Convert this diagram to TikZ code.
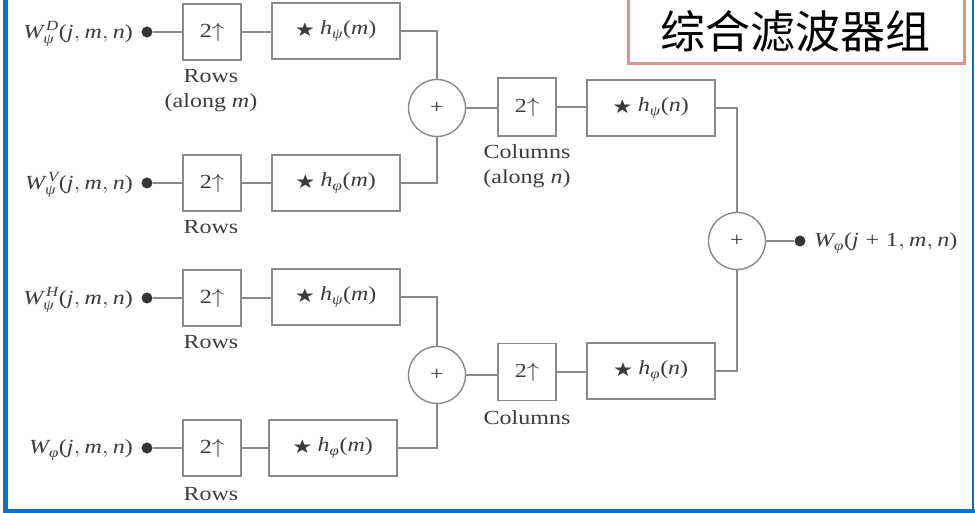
\documentclass[tikz,border=0pt]{standalone}
\usepackage{amsmath}
\usepackage{amssymb}
\usepackage{graphicx}
\usepackage{fontspec}
\setmainfont{Liberation Serif}
\newfontfamily\cjk{Noto Sans CJK SC}
\usetikzlibrary{calc}
\newcommand\vi[1]{\text{\itshape #1}}
\newcommand\vr[1]{\text{\upshape #1}}
\newcommand\hs[1]{\scalebox{1.2}[1]{#1}}
\newcommand\stsym{\raisebox{0.5pt}{\scalebox{0.82}{$\bigstar$}}}
\definecolor{lg}{HTML}{8A8A8A}
\definecolor{tg}{HTML}{3C3C3C}
\definecolor{frameblue}{HTML}{0A72C4}
\definecolor{pinkb}{HTML}{D99593}
\tikzset{
  lbl/.style={font=\fontsize{20}{23}\selectfont, text=tg, inner sep=0pt},
  upbox/.style={draw=lg, line width=1.4pt, minimum width=58pt, minimum height=56pt, inner sep=0pt, font=\fontsize{20}{23}\selectfont, text=tg},
  hbox/.style={draw=lg, line width=1.4pt, minimum width=128pt, minimum height=56pt, inner sep=0pt, font=\fontsize{20}{23}\selectfont, text=tg},
  sumc/.style={circle, draw=lg, line width=1.4pt, minimum size=57pt, inner sep=0pt, font=\fontsize{20}{23}\selectfont, text=tg},
  dotn/.style={circle, fill=tg!90!black, minimum size=11pt, inner sep=0pt},
  wire/.style={draw=lg, line width=1.4pt}
}
\begin{document}
\begin{tikzpicture}[x=1pt,y=-1pt]
\useasboundingbox (0,0) rectangle (975,513);
\fill[white] (0,0) rectangle (975,513);
% frame
\draw[frameblue, line width=5pt] (5.5,0) -- (5.5,510.5);
\draw[frameblue, line width=3.5pt] (3,510.8) -- (975,510.8);
\draw[frameblue, line width=2pt] (973,0) -- (973,512);
% title
\draw[pinkb, line width=3pt] (628,-5) rectangle (964,64);
\node[font=\cjk\fontsize{45}{50}\selectfont, text=black, inner sep=0pt] (title) at (795,31) {综合滤波器组};

% inputs
\node[dotn] (d1) at (147,32) {};
\node[dotn] (d2) at (147,183) {};
\node[dotn] (d3) at (147,298) {};
\node[dotn] (d4) at (147,448) {};
\node[lbl, anchor=east] (l1) at (133,34) {\hs{$\vi{W}^{\,\vi{D}}_{\vi{ψ}}\vr{(}\vi{j}, \vi{m}, \vi{n}\vr{)}$}};
\node[lbl, anchor=east] (l2) at (133,185) {\hs{$\vi{W}^{\,\vi{V}}_{\vi{ψ}}\vr{(}\vi{j}, \vi{m}, \vi{n}\vr{)}$}};
\node[lbl, anchor=east] (l3) at (133,300) {\hs{$\vi{W}^{\,\vi{H}}_{\vi{ψ}}\vr{(}\vi{j}, \vi{m}, \vi{n}\vr{)}$}};
\node[lbl, anchor=east] (l4) at (133,450) {\hs{$\vi{W}_{\vi{φ}}\vr{(}\vi{j}, \vi{m}, \vi{n}\vr{)}$}};

% row upsamplers
\node[upbox] (u1) at (212,32) {\hs{2$\uparrow$}};
\node[upbox] (u2) at (212,183) {\hs{2$\uparrow$}};
\node[upbox] (u3) at (212,298) {\hs{2$\uparrow$}};
\node[upbox] (u4) at (212,448) {\hs{2$\uparrow$}};
\node[lbl, align=center] (r1) at (211,91) {\hs{Rows}\\[2pt]\hs{(along \textit{m})}};
\node[lbl] (r2) at (211,227) {\hs{Rows}};
\node[lbl] (r3) at (211,342) {\hs{Rows}};
\node[lbl] (r4) at (211,494) {\hs{Rows}};

% row filters
\node[hbox] (h1) at (336,31) {\hs{\stsym\ $\vi{h}_{\vi{ψ}}\vr{(}\vi{m}\vr{)}$}};
\node[hbox] (h2) at (336,183) {\hs{\stsym\ $\vi{h}_{\vi{φ}}\vr{(}\vi{m}\vr{)}$}};
\node[hbox] (h3) at (336,297) {\hs{\stsym\ $\vi{h}_{\vi{ψ}}\vr{(}\vi{m}\vr{)}$}};
\node[hbox] (h4) at (333,448) {\hs{\stsym\ $\vi{h}_{\vi{φ}}\vr{(}\vi{m}\vr{)}$}};

% sums
\node[sumc] (s1) at (437,108) {\hs{+}};
\node[sumc] (s2) at (437,375) {\hs{+}};
\node[sumc] (s3) at (737,241) {\hs{+}};

% columns
\node[upbox, minimum height=58pt] (c1) at (527,107) {\hs{2$\uparrow$}};
\node[upbox, minimum height=57pt] (c2) at (527,372) {\hs{2$\uparrow$}};
\node[lbl, align=center] (cl1) at (527,166) {\hs{Columns}\\[2pt]\hs{(along \textit{n})}};
\node[lbl] (cl2) at (527,418) {\hs{Columns}};
\node[hbox] (g1) at (651,108) {\hs{\stsym\ $\vi{h}_{\vi{ψ}}\vr{(}\vi{n}\vr{)}$}};
\node[hbox] (g2) at (651,371) {\hs{\stsym\ $\vi{h}_{\vi{φ}}\vr{(}\vi{n}\vr{)}$}};

% output
\node[dotn] (dout) at (800,241) {};
\node[lbl, anchor=west] (lout) at (814,243) {\hs{$\vi{W}_{\vi{φ}}\vr{(}\vi{j}\;\vr{+}\;\vr{1}, \vi{m}, \vi{n}\vr{)}$}};

% wires
\foreach \i in {1,2,3,4} {
  \draw[wire] (d\i) -- (u\i);
  \draw[wire] (u\i.east) -- (u\i.east -| h\i.west);
}
\draw[wire] (h1.east) -| (s1.north);
\draw[wire] (h2.east) -| (s1.south);
\draw[wire] (h3.east) -| (s2.north);
\draw[wire] (h4.east) -| (s2.south);
\draw[wire] (s1.east) -- (s1.east -| c1.west);
\draw[wire] (c1.east) -- (c1.east -| g1.west);
\draw[wire] (s2.east) -- (s2.east -| c2.west);
\draw[wire] (c2.east) -- (c2.east -| g2.west);
\draw[wire] (g1.east) -| (s3.north);
\draw[wire] (g2.east) -| (s3.south);
\draw[wire] (s3.east) -- (dout);
\end{tikzpicture}
\end{document}
